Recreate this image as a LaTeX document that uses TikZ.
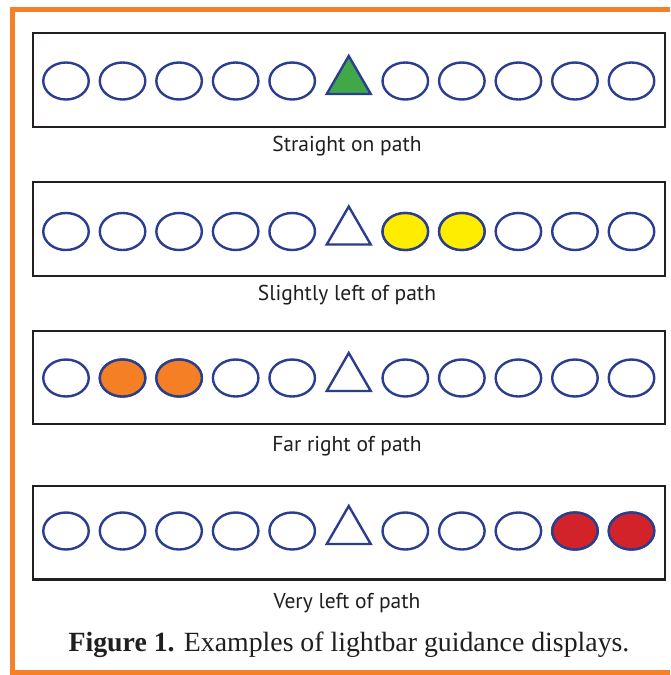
\documentclass[tikz,border=0pt]{standalone}
\usepackage{fontspec}
\setmainfont{Liberation Serif}
\newfontfamily\labelfont{PT Sans}
\definecolor{frameorange}{RGB}{245,128,37}
\definecolor{lampblue}{RGB}{43,61,143}
\definecolor{boxgray}{RGB}{35,31,32}
\definecolor{lgreen}{RGB}{64,168,73}
\definecolor{lyellow}{RGB}{255,237,0}
\definecolor{lorange}{RGB}{244,127,36}
\definecolor{lred}{RGB}{210,35,42}
\usetikzlibrary{shapes.geometric}
\tikzset{
  lamp/.style={draw=lampblue, line width=2.4pt, ellipse, minimum width=45.5pt, minimum height=37pt, inner sep=0pt},
  tri/.style={draw=lampblue, line width=2.4pt, line join=miter},
  panel/.style={draw=boxgray, line width=2.2pt},
  lbl/.style={font=\labelfont\fontsize{21.5}{25}\selectfont, text=black!88, inner sep=0pt},
  captext/.style={font=\fontsize{27.8}{32}\selectfont, text=black!88, inner sep=0pt}
}
\begin{document}
\begin{tikzpicture}[x=1pt,y=-1pt]
\useasboundingbox (0,0) rectangle (670,675);
\fill[white] (0,0) rectangle (670,675);
% orange frame
\draw[frameorange, line width=5pt] (670,9) -- (12,9) -- (12,672.5) -- (670,672.5);
% panels
\foreach \r/\top/\bot/\cy/\lab/\txt in {1/33/127/81/146/Straight on path, 2/182/276/231.5/295/Slightly left of path, 3/331/424/378/446/Far right of path, 4/486/579.5/531/603/Very left of path}{
  \draw[panel] (33,\top) rectangle (665,\bot);
  \node[lbl] (lab\r) at (347,\lab) {\txt};
  \foreach \i in {0,...,10}{
    \pgfmathsetmacro{\cx}{66+56.55*\i}
    \ifnum\i=5
      \coordinate (t\r) at (\cx,\cy);
    \else
      \node[lamp] (l\r-\i) at (\cx,\cy) {};
    \fi
  }
}
% triangles
\draw[tri, fill=lgreen] ([yshift=25pt]t1) -- ([xshift=-22pt,yshift=-13pt]t1) -- ([xshift=22pt,yshift=-13pt]t1) -- cycle;
\foreach \r in {2,3,4}{
  \draw[tri] ([yshift=25pt]t\r) -- ([xshift=-22pt,yshift=-13pt]t\r) -- ([xshift=22pt,yshift=-13pt]t\r) -- cycle;
}
% lit lamps
\node[lamp, fill=lyellow] at (l2-6) {};
\node[lamp, fill=lyellow] at (l2-7) {};
\node[lamp, fill=lorange] at (l3-1) {};
\node[lamp, fill=lorange] at (l3-2) {};
\node[lamp, fill=lred] at (l4-9) {};
\node[lamp, fill=lred] at (l4-10) {};
% caption
\node[captext] (caption) at (349,645) {\textbf{Figure 1.} Examples of lightbar guidance displays.};
\end{tikzpicture}
\end{document}
